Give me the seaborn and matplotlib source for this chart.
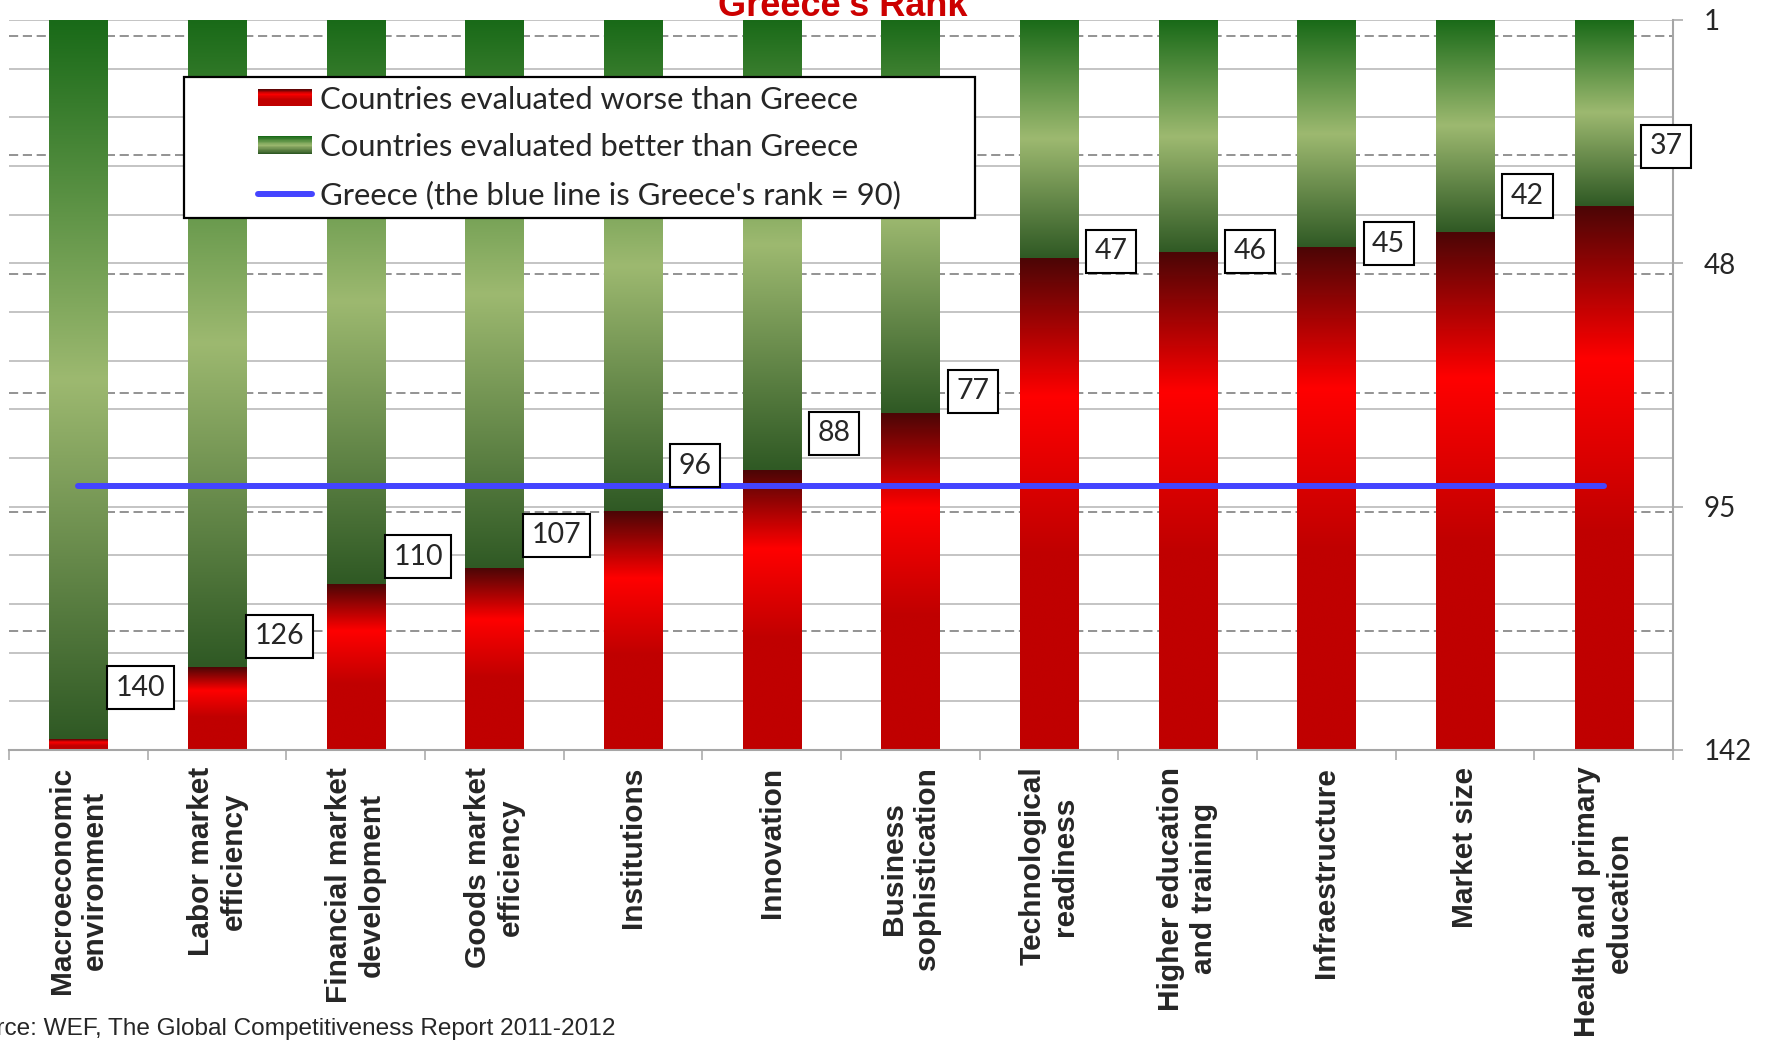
import numpy as np
import pandas as pd
import matplotlib
matplotlib.use("Agg")
import matplotlib.pyplot as plt
import seaborn as sns
from matplotlib.colors import LinearSegmentedColormap
from matplotlib.patches import Rectangle
from matplotlib.lines import Line2D
from matplotlib.legend_handler import HandlerBase
from matplotlib.ticker import MultipleLocator, FixedLocator, FuncFormatter

# --- data ---
pillars = [
    "Macroeconomic\nenvironment", "Labor market\nefficiency", "Financial market\ndevelopment",
    "Goods market\nefficiency", "Institutions", "Innovation", "Business\nsophistication",
    "Technological\nreadiness", "Higher education\nand training", "Infraestructure",
    "Market size", "Health and primary\neducation",
]
greece_pillar_rank = [140, 126, 110, 107, 96, 88, 77, 47, 46, 45, 42, 37]
greece_overall_rank = 90
n_countries = 142
rank_ticks = [1, 48, 95, 142]
legend_labels = [
    "Countries evaluated worse than Greece",
    "Countries evaluated better than Greece",
    "Greece (the blue line is Greece's rank = 90)",
]
title = "Greece's Rank"
source_note = "Source: WEF, The Global Competitiveness Report 2011-2012"

# how far each value box sits above its bar end (in ranks), as placed in the original
label_lift = [10.0, 6.0, 5.3, 6.5, 8.9, 7.2, 4.3, 1.3, 0.3, 0.8, 7.0, 11.6]

W, H = 1769, 1047
BLUE = "#4444FF"
green_cmap = LinearSegmentedColormap.from_list(
    "better", [(0, "#196A18"), (0.5, "#9DB970"), (1, "#2F5924")])
red_cmap = LinearSegmentedColormap.from_list(
    "worse", [(0, "#4C0606"), (0.28, "#FF0000"), (0.6, "#C00000"), (1, "#C00000")])


class GradientSwatch(HandlerBase):
    def __init__(self, cmap, steps=30):
        super().__init__()
        self.cmap = cmap
        self.steps = steps

    def create_artists(self, legend, orig_handle, xdescent, ydescent, width, height, fontsize, trans):
        step = height / self.steps
        return [Rectangle((-xdescent, -ydescent + height - (i + 1) * step), width, step * 1.05,
                          facecolor=self.cmap(i / (self.steps - 1)), edgecolor="none", transform=trans)
                for i in range(self.steps)]


sns.set_theme(style="white")
plt.rcParams["font.family"] = ["Lato", "DejaVu Sans"]

df = pd.DataFrame({"pillar": pillars, "rank": greece_pillar_rank})
df["all"] = n_countries - 1          # whole bar = ranks 1..142
df["worse"] = n_countries - df["rank"]  # countries below Greece

fig = plt.figure(figsize=(W / 100, H / 100), dpi=100)
ax = fig.add_axes([9 / W, 1 - 750 / H, (1673 - 9) / W, 730 / H])

sns.barplot(data=df, x="pillar", y="all", color="green", width=0.42, errorbar=None, ax=ax)
sns.barplot(data=df, x="pillar", y="worse", color="red", width=0.42, errorbar=None, ax=ax)

# swap the flat fills for gradients
n = len(pillars)
grad = np.linspace(0, 1, 256).reshape(-1, 1)
for gp, rp in zip(ax.patches[:n], ax.patches[n:]):
    x0, w = gp.get_x(), gp.get_width()
    top, split = gp.get_height(), rp.get_height()
    ax.imshow(grad, cmap=green_cmap, extent=(x0, x0 + w, split, top), aspect="auto",
              interpolation="bicubic", zorder=2)
    ax.imshow(grad, cmap=red_cmap, extent=(x0, x0 + w, 0, split), aspect="auto",
              interpolation="bicubic", zorder=2)
    gp.set_visible(False)
    rp.set_visible(False)

# Greece's overall rank, drawn on the secondary (0..141) axis like the original
ax3 = ax.twinx()
sns.lineplot(x=np.arange(n), y=[greece_overall_rank] * n, ax=ax3, color=BLUE, lw=4.3,
             solid_capstyle="round")
ax3.set_ylim(n_countries - 1, 0)
ax3.set_yticks([])
ax3.set_ylabel("")
for s in ax3.spines.values():
    s.set_visible(False)

ax.set_xlim(-0.5, n - 0.5)
ax.set_ylim(0, n_countries - 1)
ax.set_axisbelow(True)

# y axis (rank, 1 on top) on the right
ax.yaxis.tick_right()
ax.yaxis.set_major_locator(FixedLocator([n_countries - r for r in rank_ticks]))
ax.yaxis.set_major_formatter(FuncFormatter(lambda d, _: f"{n_countries - d:.0f}"))
ax.yaxis.set_minor_locator(MultipleLocator((n_countries - 1) / 15))
ax.grid(axis="y", which="both", color="#BFBFBF", lw=1.3)
for r in range(n_countries, 0, -23):
    ax.axhline(n_countries - r, color="#808080", lw=1.2, ls=(0, (5.5, 2.8)), zorder=0.6)
ax.tick_params(axis="y", which="major", direction="out", length=7.2, width=1.1, color="#A6A6A6",
               pad=15, labelsize=20, left=False, labelleft=False, right=True, labelright=True)
ax.tick_params(axis="y", which="minor", length=0)

# x axis
ax.set_xticks(range(n))
ax.set_xticklabels(pillars, rotation=90, ha="center", va="top", multialignment="center",
                   fontsize=21.5, fontweight="bold", linespacing=1.22, family="Liberation Sans")
ax.xaxis.set_minor_locator(FixedLocator(np.arange(-0.5, n, 1)))
ax.tick_params(axis="x", which="major", length=0, pad=12)
ax.tick_params(axis="x", which="minor", bottom=True, direction="out", length=7.2, width=1.1,
               color="#A6A6A6")
ax.set_xlabel("")
ax.set_ylabel("")
for side in ["left", "top"]:
    ax.spines[side].set_visible(False)
for side in ["bottom", "right"]:
    ax.spines[side].set_color("#A6A6A6")
    ax.spines[side].set_linewidth(1.5)

for i, (v, lift) in enumerate(zip(greece_pillar_rank, label_lift)):
    ax3.text(i + 0.45, n_countries - (v - lift), str(v), transform=ax.transData,
             ha="center", va="center", fontsize=20.5, zorder=6,
             bbox=dict(boxstyle="square,pad=0.3", fc="white", ec="black", lw=1.5))

# legend with its own framed box
fig.add_artist(Rectangle((184 / W, 1 - 218 / H), (975 - 184) / W, (218 - 77) / H,
                         transform=fig.transFigure, fc="white", ec="black", lw=1.6, zorder=4))
red_h = Rectangle((0, 0), 1, 1)
green_h = Rectangle((0, 0), 1, 1)
blue_h = Line2D([], [], color=BLUE, lw=4.3, solid_capstyle="round")
fig.legend([red_h, green_h, blue_h], legend_labels, loc="center",
           bbox_to_anchor=(579.5 / W, 1 - 147.5 / H), frameon=False, borderpad=0,
           fontsize=22.3, labelspacing=0.63, handlelength=1.75, handleheight=0.5,
           handletextpad=0.25,
           handler_map={red_h: GradientSwatch(red_cmap), green_h: GradientSwatch(green_cmap)})

fig.text(842.5 / W, 1 - 16 / H, title, ha="center", va="baseline", fontsize=26,
         fontweight="bold", color="#CC0000", family="Liberation Sans")
fig.text(615 / W, 1 - 1035 / H, source_note, ha="right", va="baseline", fontsize=17.6,
         family="Liberation Sans")

fig.savefig("out.png", dpi=100)
